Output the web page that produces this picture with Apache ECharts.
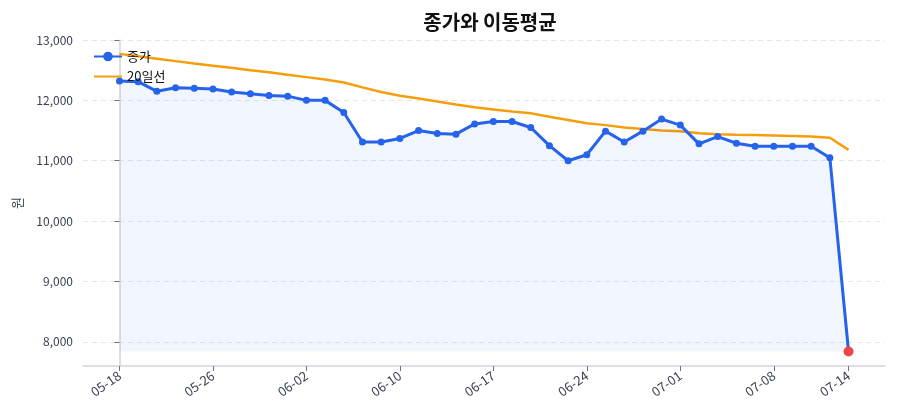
<!DOCTYPE html>
<html>
<head>
<meta charset="utf-8">
<script src="https://cdn.jsdelivr.net/npm/echarts@6/dist/echarts.min.js"></script>
<style>
  html, body { margin: 0; padding: 0; background: #fff; }
  #chart { width: 900px; height: 420px; }
</style>
</head>
<body>
<div id="chart"></div>
<script>
// 거래일 (40일)
const dates = [
  "05-18", "05-19", "05-20", "05-21", "05-22", "05-26", "05-27", "05-28", "05-29", "06-01",
  "06-02", "06-04", "06-05", "06-08", "06-09", "06-10", "06-11", "06-12", "06-15", "06-16",
  "06-17", "06-18", "06-19", "06-22", "06-23", "06-24", "06-25", "06-26", "06-29", "06-30",
  "07-01", "07-02", "07-03", "07-06", "07-07", "07-08", "07-09", "07-10", "07-13", "07-14"
];
// 종가
const closeValues = [
  12320, 12310, 12150, 12210, 12200, 12190, 12140, 12110, 12080, 12070,
  12000, 12000, 11800, 11310, 11310, 11370, 11500, 11450, 11440, 11610,
  11650, 11650, 11550, 11250, 11000, 11100, 11490, 11310, 11490, 11690,
  11590, 11280, 11400, 11290, 11240, 11240, 11240, 11240, 11050, 7840
];
// 20일 이동평균
const ma20Values = [
  12770, 12730, 12690, 12650, 12610, 12575, 12540, 12500, 12465, 12425,
  12385, 12345, 12295, 12215, 12140, 12075, 12030, 11980, 11930, 11885,
  11850, 11815, 11785, 11730, 11675, 11620, 11590, 11550, 11525, 11500,
  11488, 11455, 11440, 11430, 11425, 11418, 11410, 11400, 11380, 11180
];
const tickIndex = [0, 5, 10, 15, 20, 25, 30, 35, 39];
const yTicks = [8000, 9000, 10000, 11000, 12000, 13000];

const font = "'Noto Sans CJK KR', 'Noto Sans', sans-serif";
const minClose = Math.min(...closeValues);
const lastIdx = closeValues.length - 1;

const closeData = closeValues.map((v, i) => {
  if (i === lastIdx) {
    return { value: [i, v], symbolSize: 10, itemStyle: { color: "#ef4444" } };
  }
  return [i, v];
});
const maData = ma20Values.map((v, i) => [i, v]);

const chart = echarts.init(document.getElementById("chart"), null, { renderer: "canvas" });

const option = {
  animation: false,
  textStyle: { fontFamily: font },
  title: {
    text: "종가와 이동평균",
    left: 485,
    textAlign: "center",
    top: 7,
    textStyle: { fontSize: 20, fontWeight: "bold", color: "#111", fontFamily: font },
  },
  legend: {
    orient: "vertical",
    left: 88,
    top: 45,
    itemWidth: 28,
    itemHeight: 12,
    itemGap: 7,
    textStyle: { fontSize: 13, color: "#111", fontFamily: font },
    data: [
      { name: "종가" },
      { name: "20일선", itemStyle: { opacity: 0 } },
    ],
  },
  grid: { left: 83, right: 15, top: 40, bottom: 54 },
  xAxis: {
    type: "value",
    min: -1.95,
    max: 40.95,
    axisLine: { show: true, lineStyle: { color: "#d1d5db", width: 1.5 } },
    axisTick: {
      show: true,
      customValues: tickIndex,
      length: 5,
      lineStyle: { color: "#6b7280", width: 1 },
    },
    axisLabel: {
      customValues: tickIndex,
      rotate: 35,
      color: "#374151",
      fontSize: 13,
      fontFamily: font,
      margin: 8,
      formatter: (v) => dates[v] || "",
    },
    splitLine: { show: false },
  },
  yAxis: {
    type: "value",
    min: 7600,
    max: 13000,
    name: "원",
    nameLocation: "middle",
    nameGap: 59,
    nameTextStyle: { fontSize: 13, color: "#374151", fontFamily: font },
    axisLine: { show: true, lineStyle: { color: "#d1d5db", width: 1.5 } },
    axisTick: {
      show: true,
      customValues: yTicks,
      length: 5,
      lineStyle: { color: "#6b7280", width: 1 },
    },
    axisLabel: {
      customValues: yTicks,
      color: "#374151",
      fontSize: 12,
      fontFamily: font,
      margin: 10,
      formatter: (v) => v.toLocaleString("en-US"),
    },
    splitLine: {
      show: true,
      customValues: yTicks,
      lineStyle: { color: "#e5e7eb", type: [5, 4], width: 1 },
    },
  },
  series: [
    {
      name: "종가",
      type: "line",
      data: closeData,
      symbol: "circle",
      symbolSize: 7,
      z: 3,
      lineStyle: { color: "#2563eb", width: 3 },
      itemStyle: { color: "#2563eb" },
      areaStyle: { color: "rgba(37, 99, 235, 0.09)", origin: minClose },
    },
    {
      name: "20일선",
      type: "line",
      data: maData,
      symbol: "none",
      z: 2,
      lineStyle: { color: "#f59e0b", width: 2.5 },
      itemStyle: { color: "#f59e0b" },
    },
  ],
};

chart.setOption(option);
</script>
</body>
</html>
